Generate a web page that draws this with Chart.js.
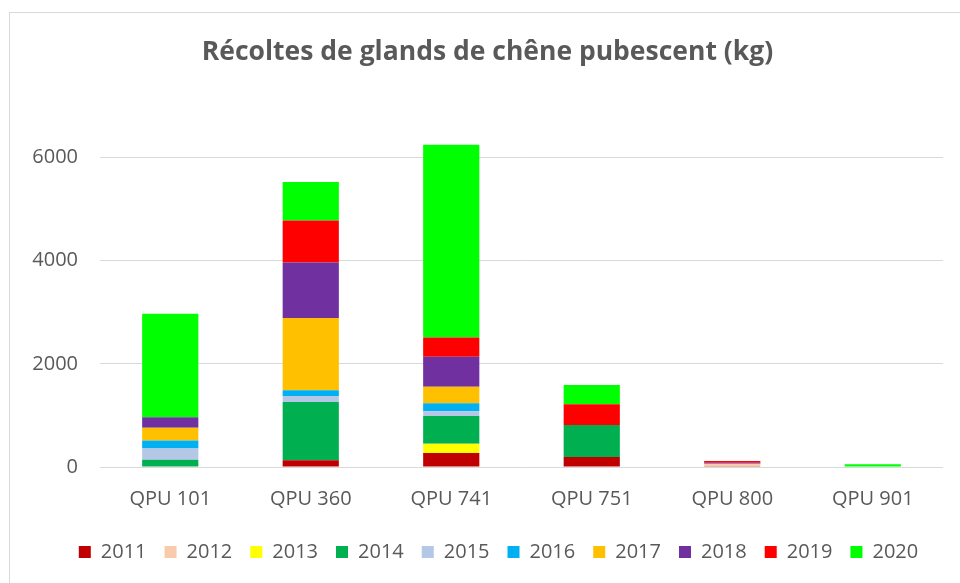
<!DOCTYPE html>
<html>
<head>
<meta charset="utf-8">
<script src="https://cdn.jsdelivr.net/npm/chart.js@4"></script>
<style>
  html, body { margin: 0; padding: 0; background: #fff; }
  #frame { position: absolute; left: 9px; top: 12px; width: 960px; height: 580px; border: 1px solid #d9d9d9; }
  #wrap { position: absolute; left: 0; top: 0; width: 960px; height: 583px; }
</style>
</head>
<body>
<div id="frame"></div>
<div id="wrap"><canvas id="chart" width="960" height="583"></canvas></div>
<script>
const categories = ['QPU 101', 'QPU 360', 'QPU 741', 'QPU 751', 'QPU 800', 'QPU 901'];
const years = ['2011', '2012', '2013', '2014', '2015', '2016', '2017', '2018', '2019', '2020'];
const colors = ['#C00000', '#F8CBAD', '#FFFF00', '#00B050', '#B4C7E7', '#00B0F0', '#FFC000', '#7030A0', '#FF0000', '#00FF00'];

// kg per year, one entry per plot
const v2011 = [0, 130, 270, 195, 15, 0];
const v2012 = [0, 0, 0, 0, 50, 0];
const v2013 = [0, 0, 180, 0, 0, 0];
const v2014 = [140, 1130, 540, 620, 0, 0];
const v2015 = [220, 117, 90, 0, 0, 0];
const v2016 = [155, 110, 155, 0, 0, 0];
const v2017 = [245, 1400, 320, 0, 0, 0];
const v2018 = [205, 1075, 580, 0, 15, 0];
const v2019 = [0, 815, 375, 400, 35, 0];
const v2020 = [2005, 745, 3735, 375, 0, 55];
const yTicks = [0, 2000, 4000, 6000];

const series = [v2011, v2012, v2013, v2014, v2015, v2016, v2017, v2018, v2019, v2020];
const grey = '#595959';

const datasets = years.map((y, i) => ({
    label: y,
    data: series[i],
    backgroundColor: colors[i],
    borderWidth: 0,
    barPercentage: 0.4,
    categoryPercentage: 1,
}));

// nudge the legend a little to the right, like the original
const legendShift = {
    id: 'legendShift',
    afterLayout(chart) {
        const lg = chart.legend;
        if (lg) { lg.left += 11; lg.right += 11; }
    },
};

new Chart(document.getElementById('chart'), {
    type: 'bar',
    data: { labels: categories, datasets: datasets },
    plugins: [legendShift],
    options: {
        responsive: false,
        animation: false,
        layout: { padding: { left: 32, right: 17, top: 0, bottom: 11 } },
        plugins: {
            title: {
                display: true,
                text: 'Récoltes de glands de chêne pubescent (kg)',
                color: grey,
                font: { family: 'Open Sans', size: 26.5, weight: 'bold', lineHeight: 1.2 },
                padding: { top: 37, bottom: 37 },
            },
            legend: {
                position: 'bottom',
                labels: {
                    color: grey,
                    font: { family: 'Open Sans', size: 20 },
                    boxWidth: 12,
                    boxHeight: 12,
                    padding: 18,
                },
            },
            tooltip: { enabled: false },
        },
        scales: {
            x: {
                stacked: true,
                grid: { display: false },
                border: { display: false },
                ticks: { color: grey, font: { family: 'Open Sans', size: 20, lineHeight: 1.05 }, padding: 14 },
            },
            y: {
                stacked: true,
                min: 0,
                max: 7000,
                afterFit: (scale) => { scale.width = 68; },
                afterBuildTicks: (scale) => {
                    scale.ticks = yTicks.map(v => ({ value: v }));
                },
                grid: { color: '#d9d9d9', lineWidth: 1, drawTicks: false },
                border: { display: false },
                ticks: {
                    color: grey,
                    font: { family: 'Open Sans', size: 20 },
                    padding: 22,
                    callback: (v) => String(v),
                },
            },
        },
    },
});
</script>
</body>
</html>
